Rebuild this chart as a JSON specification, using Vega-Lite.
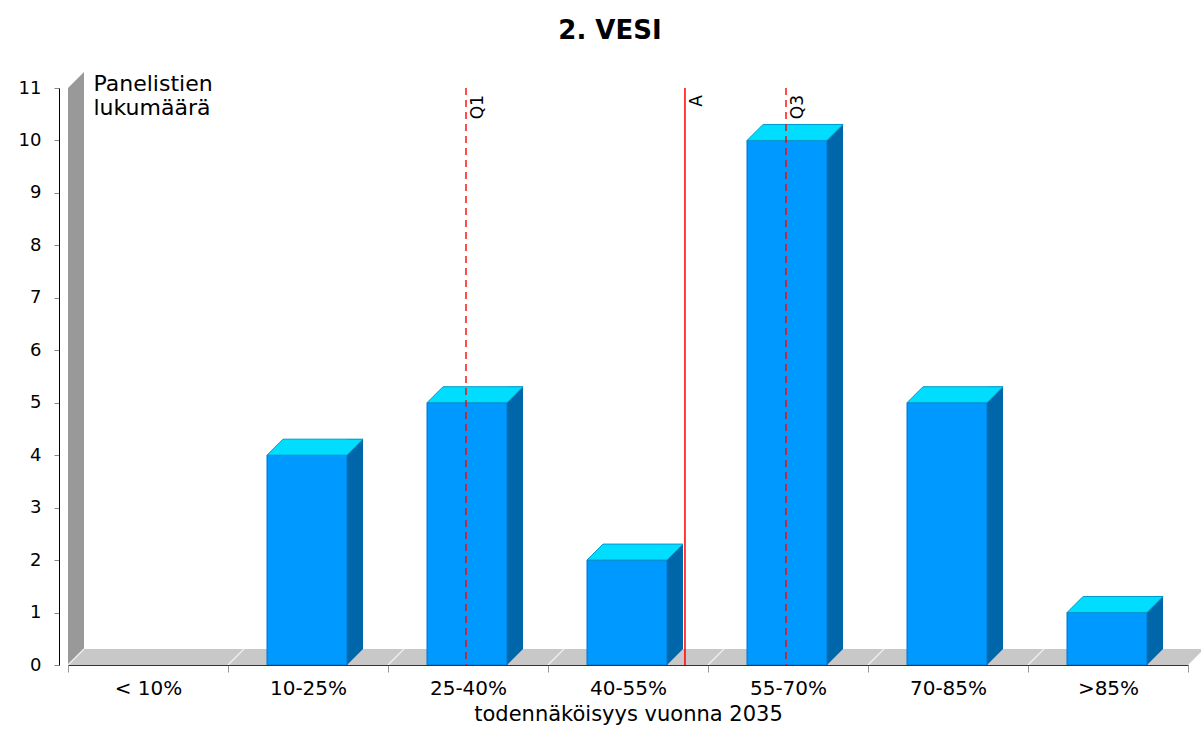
{
  "$schema": "https://vega.github.io/schema/vega-lite/v6.json",
  "width": 1120,
  "height": 577,
  "autosize": {"type": "none"},
  "padding": {"left": 68, "top": 88, "right": 13, "bottom": 71},
  "background": "white",
  "config": {"view": {"stroke": null}, "font": "DejaVu Sans"},
  "title": {"text": "2. VESI", "fontSize": 26, "fontWeight": "bold", "font": "DejaVu Sans", "anchor": "middle", "dx": -18, "offset": 28, "color": "black"},
  "data": {"values": [
    {"cat": "< 10%", "n": 0},
    {"cat": "10-25%", "n": 4},
    {"cat": "25-40%", "n": 5},
    {"cat": "40-55%", "n": 2},
    {"cat": "55-70%", "n": 10},
    {"cat": "70-85%", "n": 5},
    {"cat": ">85%", "n": 1}
  ]},
  "layer": [
    {
      "transform": [{"filter": "datum.cat === '< 10%'"}],
      "mark": {"type": "point", "shape": "M0,0 L0,-577 L16,-593 L16,-16 Z", "size": 4, "filled": true, "fill": "#999999", "opacity": 1, "strokeWidth": 0},
      "encoding": {
        "x": {"field": "cat", "type": "nominal", "sort": null, "bandPosition": 0,
          "scale": {"domain": ["< 10%", "10-25%", "25-40%", "40-55%", "55-70%", "70-85%", ">85%"], "paddingInner": 0, "paddingOuter": 0},
          "axis": {"orient": "bottom", "tickBand": "extent", "domainColor": "#333333", "tickColor": "#999999", "tickSize": 7, "labelFontSize": 20, "labelAngle": 0, "labelPadding": 6, "labelColor": "black", "title": "todennäköisyys vuonna 2035", "titleFontSize": 21, "titleFontWeight": "normal", "titlePadding": 5, "titleColor": "black", "zindex": 1}},
        "y": {"datum": 0, "type": "quantitative",
          "scale": {"domain": [0, 11], "nice": false},
          "axis": {"offset": 9, "grid": false, "domainColor": "black", "tickColor": "#888888", "tickSize": 5, "labelFontSize": 18, "labelColor": "black", "labelPadding": 13, "values": [0, 1, 2, 3, 4, 5, 6, 7, 8, 9, 10, 11],
            "title": ["Panelistien", "lukumäärä"], "titleAngle": 0, "titleAlign": "left", "titleBaseline": "top", "titleX": 34, "titleY": -15, "titleFontSize": 22, "titleFontWeight": "normal", "titleColor": "black", "titleLineHeight": 24}}
      }
    },
    {
      "transform": [{"filter": "datum.cat === '< 10%'"}],
      "mark": {"type": "point", "shape": "M0,0 L16,-16 L1136,-16 L1120,0 Z", "size": 4, "filled": true, "fill": "#c8c8c8", "opacity": 1, "strokeWidth": 0},
      "encoding": {
        "x": {"field": "cat", "type": "nominal", "sort": null, "bandPosition": 0},
        "y": {"datum": 0, "type": "quantitative"}
      }
    },
    {
      "mark": {"type": "point", "shape": "M0,0 L16,-16", "size": 4, "filled": false, "stroke": "#eeeeee", "strokeWidth": 1.5, "opacity": 1},
      "encoding": {
        "x": {"field": "cat", "type": "nominal", "sort": null, "bandPosition": 0},
        "y": {"datum": 0, "type": "quantitative"}
      }
    },
    {
      "transform": [{"filter": "datum.n > 0"}],
      "mark": {"type": "bar", "width": 16, "xOffset": 47, "yOffset": -16, "y2Offset": -16, "fill": "#0066aa"},
      "encoding": {
        "x": {"field": "cat", "type": "nominal", "sort": null},
        "y": {"field": "n", "type": "quantitative"},
        "y2": {"datum": 0}
      }
    },
    {
      "transform": [{"filter": "datum.n > 0"}],
      "mark": {"type": "point", "shape": "M39,-16 L55,-16 L39,0 Z", "size": 4, "filled": true, "fill": "#0066aa", "opacity": 1, "strokeWidth": 0},
      "encoding": {
        "x": {"field": "cat", "type": "nominal", "sort": null},
        "y": {"datum": 0, "type": "quantitative"}
      }
    },
    {
      "transform": [{"filter": "datum.n > 0"}],
      "mark": {"type": "bar", "width": 80, "xOffset": -1, "fill": "#0099ff", "stroke": "#0077cc", "strokeWidth": 1},
      "encoding": {
        "x": {"field": "cat", "type": "nominal", "sort": null},
        "y": {"field": "n", "type": "quantitative"},
        "y2": {"datum": 0}
      }
    },
    {
      "transform": [{"filter": "datum.n > 0"}],
      "mark": {"type": "point", "shape": "M-41,0 L-25,-16 L55,-16 L39,0 Z", "size": 4, "filled": true, "fill": "#00ddff", "stroke": "#0099cc", "strokeWidth": 1, "opacity": 1},
      "encoding": {
        "x": {"field": "cat", "type": "nominal", "sort": null},
        "y": {"field": "n", "type": "quantitative"}
      }
    },
    {
      "data": {"values": [{"label": "Q1", "cat": "25-40%"}]},
      "encoding": {"x": {"field": "cat", "type": "nominal", "sort": null, "bandPosition": 0.4875}},
      "layer": [
        {"mark": {"type": "rule", "color": "#ff0000", "strokeWidth": 1.4, "strokeDash": [7, 5]}},
        {"mark": {"type": "text", "angle": 270, "align": "right", "baseline": "top", "dx": -7, "dy": 4, "fontSize": 17, "color": "black"},
         "encoding": {"y": {"datum": 11, "type": "quantitative"}, "text": {"field": "label"}}}
      ]
    },
    {
      "data": {"values": [{"label": "A", "cat": "40-55%"}]},
      "encoding": {"x": {"field": "cat", "type": "nominal", "sort": null, "bandPosition": 0.856}},
      "layer": [
        {"mark": {"type": "rule", "color": "#ff0000", "strokeWidth": 1.5}},
        {"mark": {"type": "text", "angle": 270, "align": "right", "baseline": "top", "dx": -7, "dy": 4, "fontSize": 17, "color": "black"},
         "encoding": {"y": {"datum": 11, "type": "quantitative"}, "text": {"field": "label"}}}
      ]
    },
    {
      "data": {"values": [{"label": "Q3", "cat": "55-70%"}]},
      "encoding": {"x": {"field": "cat", "type": "nominal", "sort": null, "bandPosition": 0.4875}},
      "layer": [
        {"mark": {"type": "rule", "color": "#ff0000", "strokeWidth": 1.4, "strokeDash": [7, 5]}},
        {"mark": {"type": "text", "angle": 270, "align": "right", "baseline": "top", "dx": -7, "dy": 4, "fontSize": 17, "color": "black"},
         "encoding": {"y": {"datum": 11, "type": "quantitative"}, "text": {"field": "label"}}}
      ]
    }
  ]
}
